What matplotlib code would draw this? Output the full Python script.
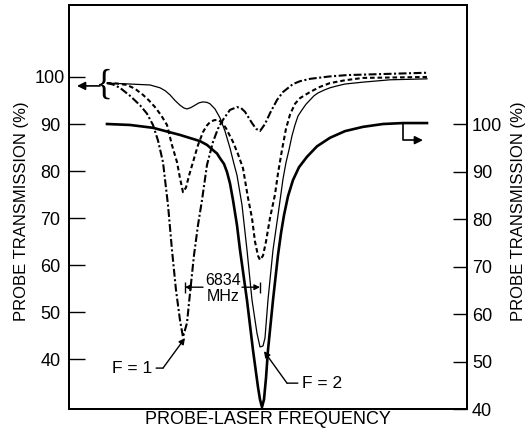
import numpy as np
import matplotlib
matplotlib.use('Agg')
import matplotlib.pyplot as plt

plt.rcParams['font.family'] = ['Liberation Sans', 'DejaVu Sans']

# thin solid curve (left axis)
freq_thin = [38, 61, 81, 91, 96, 101, 106, 111, 115, 118, 122, 126, 130, 134, 138, 141,
             146, 151, 156, 161, 165, 168, 173, 178, 183, 188, 191, 194, 196, 199, 204,
             209, 214, 217, 220, 223, 226, 229, 233, 237, 241, 245, 249, 255, 261, 268,
             276, 294, 321, 358]
trans_thin = [98.7, 98.5, 98.3, 97.7, 97.1, 96.2, 95.0, 94.0, 93.4, 93.2, 93.5, 94.0,
              94.5, 94.7, 94.6, 94.3, 93.2, 91.3, 88.5, 84.9, 81.5, 79.1, 72.8, 63.2,
              52.6, 45.5, 42.6, 42.8, 44.5, 52.6, 63.2, 70.6, 78.3, 81.8, 84.5, 87.5,
              89.8, 91.7, 93.0, 94.2, 95.1, 96.0, 96.6, 97.2, 97.7, 98.1, 98.5, 98.9,
              99.4, 99.6]

# dashed curve (left axis)
freq_dash = [38, 48, 58, 66, 74, 80, 86, 92, 98, 103, 108, 111, 114, 117, 120, 124, 129,
             134, 138, 141, 145, 149, 153, 157, 164, 169, 174, 179, 183, 186, 189, 191,
             194, 197, 201, 206, 209, 213, 217, 221, 226, 231, 241, 251, 261, 276, 294,
             358]
trans_dash = [98.7, 98.6, 98.3, 97.5, 96.2, 95.0, 93.6, 91.9, 89.8, 85.5, 81.9, 78.5,
              75.5, 76.5, 79.0, 81.9, 85.5, 88.3, 89.7, 90.4, 90.8, 90.9, 90.3, 89.1,
              86.2, 83.6, 80.6, 74.3, 70.0, 65.0, 62.0, 61.1, 62.0, 65.0, 70.0, 75.0,
              79.5, 84.5, 89.0, 92.0, 94.3, 95.5, 96.8, 97.9, 98.7, 99.3, 99.8, 100.0]

# dash-dot curve (left axis)
freq_dd = [38, 44, 51, 61, 71, 78, 84, 89, 94, 99, 103, 107, 111, 114, 118, 121, 125, 129,
           133, 138, 144, 149, 154, 161, 168, 172, 176, 183, 187, 191, 196, 201, 208, 214,
           224, 231, 241, 260, 278, 310, 358]
trans_dd = [98.7, 98.4, 97.7, 96.0, 94.0, 92.2, 89.8, 86.5, 81.9, 72.8, 63.2, 54.7, 48.3,
            44.7, 47.7, 54.0, 62.1, 68.5, 73.8, 81.3, 86.2, 89.0, 90.9, 93.0, 93.6, 93.4,
            92.6, 90.2, 89.0, 88.5, 90.0, 92.3, 95.1, 96.8, 98.5, 99.1, 99.6, 100.1,
            100.4, 100.6, 100.9]

# heavy solid curve (right axis)
freq_heavy = [38, 61, 84, 111, 131, 138, 144, 148, 151, 155, 158, 161, 164, 168, 171,
              178, 184, 189, 191, 193, 195, 197, 199, 204, 209, 212, 215, 219, 224, 230,
              238, 248, 261, 276, 294, 314, 334, 358]
trans_heavy = [100.0, 99.8, 99.2, 97.7, 96.4, 95.6, 94.5, 93.8, 92.8, 91.6, 89.9, 87.5,
               84.0, 78.7, 73.5, 62.9, 52.4, 44.6, 42.0, 40.4, 42.0, 46.5, 52.4, 62.9,
               72.4, 77.0, 80.8, 84.8, 88.2, 90.9, 93.1, 95.3, 97.1, 98.5, 99.4, 100.0,
               100.2, 100.2]

left_ticks = [40, 50, 60, 70, 80, 90, 100]
right_ticks = [40, 50, 60, 70, 80, 90, 100]

fig = plt.figure(figsize=(5.29, 4.36), dpi=100)
ax = fig.add_axes([0.1304, 0.0619, 0.7524, 0.9266])
ax2 = ax.twinx()

ax.plot(freq_thin, trans_thin, color='black', lw=0.9)
ax.plot(freq_dash, trans_dash, color='black', lw=1.5, linestyle=(0, (2.2, 1.4)))
ax.plot(freq_dd, trans_dd, color='black', lw=1.5, linestyle=(0, (3.8, 1.2, 1.0, 1.2)))
ax2.plot(freq_heavy, trans_heavy, color='black', lw=1.9)

ax.set_xlim(0, 398)
ax.set_ylim(29.4, 115.3)
ax2.set_ylim(40.0, 125.05)
ax.set_xticks([])

ax.set_yticks(left_ticks)
ax.tick_params(axis='y', direction='in', length=11.5, width=1, labelsize=13, pad=13.5)
for lab in ax.get_yticklabels():
    lab.set_horizontalalignment('center')
ax2.set_yticks(right_ticks)
ax2.tick_params(axis='y', direction='in', length=10, width=1, labelsize=13, pad=3.5)

for a in (ax, ax2):
    for s in a.spines.values():
        s.set_linewidth(1.4)

ax.set_ylabel('PROBE TRANSMISSION (%)', fontsize=12)
ax.yaxis.set_label_coords(-0.1, 0.49)
ax2.set_ylabel('PROBE TRANSMISSION (%)', fontsize=12, rotation=90)
ax2.yaxis.set_label_coords(1.11, 0.49)
ax.set_xlabel('PROBE-LASER FREQUENCY', fontsize=13)
ax.xaxis.set_label_coords(0.5, -0.005)

# left-axis marker arrow with brace
ax.annotate('', xy=(8, 98.1), xytext=(31, 98.1),
            arrowprops=dict(arrowstyle='-|>', color='black', lw=1.2,
                            mutation_scale=12, shrinkA=0, shrinkB=0))
ax.text(35, 98.3, '{', fontsize=25, family='Liberation Serif',
        ha='center', va='center')

# right-axis marker arrow
ax2.annotate('', xy=(354, 96.6), xytext=(334, 100.2),
             arrowprops=dict(arrowstyle='-|>', color='black', lw=1.2,
                             mutation_scale=12, shrinkA=0, shrinkB=0,
                             connectionstyle='angle,angleA=90,angleB=0,rad=0'))

# F = 1 / F = 2 labels
ax.annotate('', xy=(116, 44.5), xytext=(94, 38.1),
            arrowprops=dict(arrowstyle='-|>', color='black', lw=1,
                            mutation_scale=9, shrinkA=0, shrinkB=0))
ax.annotate('F = 1', xy=(94, 38.1), xytext=(83, 38.1), ha='right', va='center',
            fontsize=12.5,
            arrowprops=dict(arrowstyle='-', color='black', lw=1, shrinkA=1, shrinkB=0))
ax.annotate('', xy=(195, 41.7), xytext=(218, 34.9),
            arrowprops=dict(arrowstyle='-|>', color='black', lw=1,
                            mutation_scale=9, shrinkA=0, shrinkB=0))
ax.annotate('F = 2', xy=(218, 34.9), xytext=(233, 34.9), ha='left', va='center',
            fontsize=12.5,
            arrowprops=dict(arrowstyle='-', color='black', lw=1, shrinkA=1, shrinkB=0))

# 6834 MHz spacing marker
ax.vlines([116, 191], 54.1, 56.5, color='black', lw=1)
ax.annotate('', xy=(116, 55.3), xytext=(134, 55.3),
            arrowprops=dict(arrowstyle='-|>', color='black', lw=1,
                            mutation_scale=8, shrinkA=0, shrinkB=0))
ax.annotate('', xy=(191, 55.3), xytext=(173, 55.3),
            arrowprops=dict(arrowstyle='-|>', color='black', lw=1,
                            mutation_scale=8, shrinkA=0, shrinkB=0))
ax.text(154, 55.1, '6834\nMHz', fontsize=11.5, ha='center', va='center',
        linespacing=1.1)

fig.savefig('out.png', dpi=100)
